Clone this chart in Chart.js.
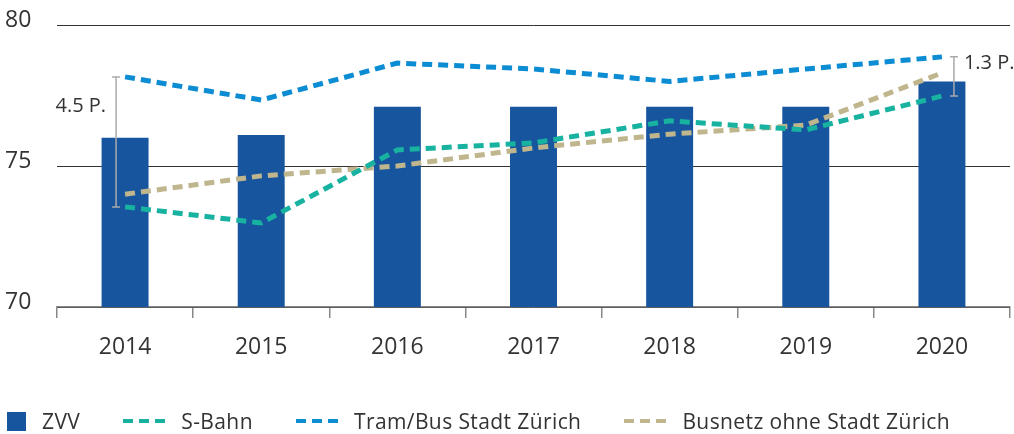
<!DOCTYPE html>
<html>
<head>
<meta charset="utf-8">
<script src="https://cdn.jsdelivr.net/npm/chart.js@4.4.1/dist/chart.umd.min.js"></script>
<style>
  html, body { margin: 0; padding: 0; background: #fff; }
  #wrap { position: relative; width: 1014px; height: 434px; }
  #legend {
    position: absolute; left: 7px; top: 407px;
    display: flex; align-items: center;
    font-family: "Open Sans", sans-serif; font-size: 21px; letter-spacing: 0.4px; color: #333;
  }
  .item { display: flex; align-items: center; margin-right: 43px; }
  .item svg { margin-right: 16px; }
</style>
</head>
<body>
<div id="wrap">
  <canvas id="chart" width="1014" height="434"></canvas>
  <div id="legend"></div>
</div>
<script>
// data
let years = ['2014', '2015', '2016', '2017', '2018', '2019', '2020'];
let zvv = [76.0, 76.1, 77.1, 77.1, 77.1, 77.1, 78.0];
let sBahn = [73.55, 72.98, 75.57, 75.82, 76.6, 76.28, 77.48];
let tramBus = [78.16, 77.34, 78.65, 78.44, 78.0, 78.44, 78.87];
let busnetz = [74.0, 74.65, 75.0, 75.64, 76.13, 76.45, 78.3];
let yTicks = [70, 75, 80];

// gap annotations between Tram/Bus and S-Bahn
let gapYears = ['2014', '2020'];
let gapLabels = ['4.5 P.', '1.3 P.'];
let gapLabelValues = [77.1, 78.65];

let colors = {
    zvv: '#17559e',
    sBahn: '#17b2a0',
    tramBus: '#0b8cd3',
    busnetz: '#c0b68d'
};

let fontFamily = '"Open Sans", sans-serif';
let textColor = '#333';

let lineDataset = (label, data, color) => ({
    type: 'line',
    label: label,
    data: data,
    borderColor: color,
    backgroundColor: color,
    borderWidth: 5,
    borderDash: [10, 6],
    pointRadius: 0,
    tension: 0,
    fill: false,
    order: 1
});

// whiskers + labels showing the gap in the first and last year
let gapPlugin = {
    id: 'gapPlugin',
    afterDatasetsDraw: (chart) => {
        let ctx = chart.ctx;
        let xs = chart.scales.x, ys = chart.scales.y;
        gapYears.forEach((yr, i) => {
            let idx = years.indexOf(yr);
            let left = i === 0;
            let x = xs.getPixelForValue(idx) + (left ? -9 : 12);
            let top = ys.getPixelForValue(tramBus[idx]);
            let bottom = ys.getPixelForValue(sBahn[idx]);
            ctx.save();
            ctx.strokeStyle = '#aaaaaa';
            ctx.lineWidth = 1.5;
            ctx.beginPath();
            ctx.moveTo(x, top); ctx.lineTo(x, bottom);
            ctx.moveTo(x - 4, top); ctx.lineTo(x + 4, top);
            ctx.moveTo(x - 4, bottom); ctx.lineTo(x + 4, bottom);
            ctx.stroke();
            ctx.fillStyle = textColor;
            ctx.font = '20px ' + fontFamily;
            ctx.textBaseline = 'middle';
            ctx.textAlign = left ? 'right' : 'left';
            ctx.fillText(gapLabels[i], left ? x - 10 : x + 10, ys.getPixelForValue(gapLabelValues[i]));
            ctx.restore();
        });
    }
};

let context = document.getElementById('chart').getContext('2d');
window.zvvChart = new Chart(context, {
    data: {
        labels: years,
        datasets: [
            lineDataset('Tram/Bus Stadt Zürich', tramBus, colors.tramBus),
            lineDataset('S-Bahn', sBahn, colors.sBahn),
            lineDataset('Busnetz ohne Stadt Zürich', busnetz, colors.busnetz),
            {
                type: 'bar',
                label: 'ZVV',
                data: zvv,
                backgroundColor: colors.zvv,
                barPercentage: 0.345,
                categoryPercentage: 1,
                order: 10
            }
        ]
    },
    options: {
        responsive: false,
        animation: false,
        layout: { padding: { left: 5, top: 25, right: 4, bottom: 67 } },
        plugins: {
            legend: { display: false },
            tooltip: { enabled: false }
        },
        scales: {
            x: {
                grid: {
                    offset: true,
                    drawOnChartArea: false,
                    drawTicks: true,
                    tickLength: 11,
                    color: '#888',
                    lineWidth: 1.5
                },
                border: { display: true, color: '#888', width: 1.5 },
                ticks: {
                    color: textColor,
                    font: { family: fontFamily, size: 23 },
                    padding: 16
                },
                afterFit: (axis) => { axis.height = 60; }
            },
            y: {
                min: 70,
                max: 80,
                afterBuildTicks: (axis) => { axis.ticks = yTicks.map(v => ({ value: v })); },
                grid: {
                    drawTicks: false,
                    color: '#333',
                    lineWidth: 1
                },
                border: { display: false },
                ticks: {
                    color: textColor,
                    font: { family: fontFamily, size: 23 },
                    crossAlign: 'far',
                    labelOffset: -5
                },
                afterFit: (axis) => { axis.width = 52; }
            }
        }
    },
    plugins: [gapPlugin]
});

// legend built from the datasets, in the reference order
let legendOrder = [
    { label: 'ZVV', color: colors.zvv, box: true },
    { label: 'S-Bahn', color: colors.sBahn },
    { label: 'Tram/Bus Stadt Zürich', color: colors.tramBus },
    { label: 'Busnetz ohne Stadt Zürich', color: colors.busnetz }
];
let legendDiv = document.getElementById('legend');
legendOrder.forEach((it) => {
    let icon = it.box
        ? '<svg width="19" height="19"><rect x="0" y="0" width="19" height="19" fill="' + it.color + '"/></svg>'
        : '<svg width="42" height="6"><line x1="0" y1="3" x2="42" y2="3" stroke="' + it.color + '" stroke-width="4" stroke-dasharray="10 6"/></svg>';
    let el = document.createElement('div');
    el.className = 'item';
    el.innerHTML = icon + '<span>' + it.label + '</span>';
    legendDiv.appendChild(el);
});
</script>
</body>
</html>
